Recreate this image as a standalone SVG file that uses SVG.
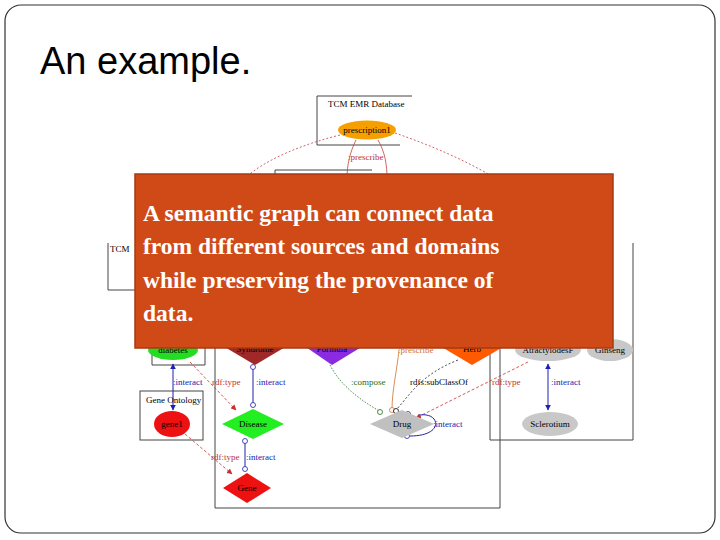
<svg xmlns="http://www.w3.org/2000/svg" width="720" height="540" viewBox="0 0 720 540">
<defs>
<style>
.t{font-family:"Liberation Serif",serif;font-size:9px}
.frame{fill:none;stroke:#444;stroke-width:1}
.r{fill:#c03030}.b{fill:#2020b0}.g{fill:#207020}.o{fill:#d07030}.k{fill:#000}
.er{stroke:#c83030;fill:none;stroke-dasharray:3 2;stroke-width:0.8}
.eb{stroke:#2020b0;fill:none;stroke-width:1}
.oc{fill:#fff;stroke:#2020b0;stroke-width:0.8}
</style>
<marker id="ar" viewBox="0 0 10 10" refX="9" refY="5" markerWidth="7" markerHeight="7" orient="auto"><path d="M0,0L10,5L0,10z" fill="#c83030"/></marker>
<marker id="ab" viewBox="0 0 10 10" refX="9" refY="5" markerWidth="6" markerHeight="6" orient="auto-start-reverse"><path d="M0,0L10,5L0,10z" fill="#2020b0"/></marker>
</defs>
<rect x="0" y="0" width="720" height="540" fill="#fff"/>
<rect x="5" y="5" width="710" height="528" rx="16" fill="#fff" stroke="#333" stroke-width="1.2"/>
<text x="40" y="74" font-family="Liberation Sans,sans-serif" font-size="38" fill="#000">An example.</text>

<g id="frames">
<path class="frame" d="M412,96H317V145H400"/>
<path class="frame" d="M372,170H275V180"/>
<path class="frame" d="M108,243V290H135"/>
<path class="frame" d="M633,243V440H490V340"/>
<path class="frame" d="M152,340V365H205V340"/>
<rect class="frame" x="140" y="391" width="63" height="49"/>
<path class="frame" d="M215,340V508H500V340"/>
</g>

<g id="connectors">
<path d="M340,135C300,145 265,160 245,178" stroke="#c04040" fill="none" stroke-dasharray="2 2" stroke-width="0.8"/>
<path d="M395,133C430,145 465,160 495,178" stroke="#c04040" fill="none" stroke-dasharray="2 2" stroke-width="0.8"/>
<path d="M356,140C350,152 347,165 347,178" stroke="#c04040" fill="none" stroke-width="0.8"/>
<path d="M378,140C385,152 387,165 387,178" stroke="#c04040" fill="none" stroke-width="0.8"/>
<line class="eb" x1="173" y1="364" x2="173" y2="410" marker-start="url(#ab)" marker-end="url(#ab)"/>
<line class="er" x1="190" y1="362" x2="236" y2="410" marker-end="url(#ar)"/>
<line class="eb" x1="253" y1="367" x2="253" y2="405"/>
<path d="M330,365C340,385 360,400 381,412" stroke="#207020" fill="none" stroke-dasharray="1.5 1.5" stroke-width="0.8"/>
<path d="M399,350C397,370 392,390 392,410" stroke="#d07030" fill="none" stroke-width="0.8"/>
<path d="M458,360C420,375 410,395 396,410" stroke="#000" fill="none" stroke-dasharray="2 2" stroke-width="0.7"/>
<line class="er" x1="528" y1="362" x2="416" y2="418" marker-end="url(#ar)"/>
<path d="M420,415C440,412 445,436 410,436" class="eb"/>
<line class="eb" x1="548" y1="364" x2="548" y2="410" marker-start="url(#ab)" marker-end="url(#ab)"/>
<line class="eb" x1="245" y1="440" x2="245" y2="470"/>
<line class="er" x1="185" y1="434" x2="232" y2="474" marker-end="url(#ar)"/>
<circle class="oc" cx="253" cy="367" r="2.5"/><circle class="oc" cx="253" cy="405" r="2.5"/>
<circle class="oc" cx="245" cy="441" r="2.5"/><circle class="oc" cx="245" cy="469" r="2.5"/>
<circle cx="380" cy="412" r="2.5" fill="#fff" stroke="#207020" stroke-width="0.8"/>
<circle cx="392" cy="410" r="2.5" fill="#fff" stroke="#d07030" stroke-width="0.8"/>
<circle cx="396" cy="411" r="2.5" fill="#fff" stroke="#000" stroke-width="0.8"/>
<circle class="oc" cx="408" cy="414" r="2.5"/><circle class="oc" cx="407" cy="436" r="2.5"/>
</g>

<g id="prescription1"><ellipse cx="367" cy="130" rx="29" ry="9.5" fill="#f5a000"/><text class="t k" x="367" y="133" text-anchor="middle">prescription1</text></g>
<text class="t" x="328" y="107" font-size="8">TCM EMR Database</text>
<text class="t r" x="348" y="160" font-size="8">:prescribe</text>
<text class="t" x="110" y="252" font-size="7">TCM</text>

<g id="diabetes"><ellipse cx="173" cy="350" rx="25" ry="10" fill="#22dd22"/><text class="t k" x="173" y="353" text-anchor="middle">diabetes</text></g>
<g id="syndrome"><path d="M218,343H292L255,365z" fill="#a02828"/><text class="t k" x="255" y="352" text-anchor="middle">Syndrome</text></g>
<g id="formula"><path d="M300,343H368L332,365z" fill="#8a2be2"/><text class="t k" x="332" y="352" text-anchor="middle">Formula</text></g>
<text class="t o" x="398" y="353">:prescribe</text>
<g id="herb"><path d="M435,343H510L472,365z" fill="#ff5a00"/><text class="t k" x="472" y="352" text-anchor="middle">Herb</text></g>
<g id="atractylodes"><ellipse cx="548" cy="350" rx="33" ry="11" fill="#c8c8c8"/><text class="t k" x="548" y="353" text-anchor="middle">AtractylodesF</text></g>
<g id="ginseng"><ellipse cx="610" cy="350" rx="23" ry="11" fill="#c8c8c8"/><text class="t k" x="610" y="353" text-anchor="middle">Ginseng</text></g>

<text class="t" x="146" y="403">Gene Ontology</text>
<g id="gene1"><ellipse cx="172" cy="424" rx="18" ry="13" fill="#ee1111"/><text class="t k" x="172" y="427" text-anchor="middle">gene1</text></g>
<g id="disease"><path d="M222,424L253,409L284,424L253,439z" fill="#22ee22"/><text class="t k" x="253" y="427" text-anchor="middle">Disease</text></g>
<g id="gene"><path d="M223,488L247,473L271,488L247,503z" fill="#ee1111"/><text class="t k" x="247" y="491" text-anchor="middle">Gene</text></g>
<g id="drug"><path d="M370,424L402,410L434,424L402,438z" fill="#c0c0c0"/><text class="t k" x="402" y="427" text-anchor="middle">Drug</text></g>
<g id="sclerotium"><ellipse cx="550" cy="424" rx="28" ry="12" fill="#c8c8c8"/><text class="t k" x="550" y="427" text-anchor="middle">Sclerotium</text></g>

<g id="labels">
<text class="t b" x="173" y="385">:interact</text>
<text class="t r" x="212" y="385">rdf:type</text>
<text class="t b" x="256" y="385">:interact</text>
<text class="t g" x="351" y="385">:compose</text>
<text class="t k" x="410" y="385">rdfs:subClassOf</text>
<text class="t r" x="492" y="385">rdf:type</text>
<text class="t b" x="551" y="385">:interact</text>
<text class="t b" x="433" y="427">:interact</text>
<text class="t r" x="211" y="460">rdf:type</text>
<text class="t b" x="246" y="460">:interact</text>
</g>

<g id="callout">
<rect x="135" y="174" width="478" height="174" fill="#d04a18" stroke="#a83a12" stroke-width="1.5"/>
<g font-family="Liberation Serif,serif" font-weight="bold" font-size="23.5" fill="#fff">
<text x="143" y="221">A semantic graph can connect data</text>
<text x="143" y="254">from different sources and domains</text>
<text x="143" y="288">while preserving the provenance of</text>
<text x="143" y="321">data.</text>
</g>
</g>
</svg>
